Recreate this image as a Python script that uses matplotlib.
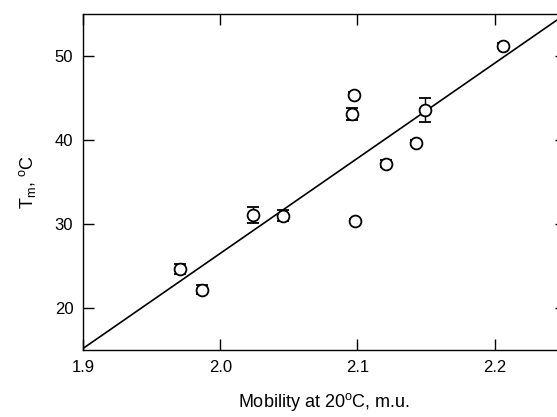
import numpy as np
import matplotlib
matplotlib.use("Agg")
import matplotlib.pyplot as plt

plt.rcParams["font.family"] = ["Liberation Sans", "DejaVu Sans"]
plt.rcParams["mathtext.fontset"] = "custom"
plt.rcParams["mathtext.rm"] = "Liberation Sans"
plt.rcParams["mathtext.it"] = "Liberation Sans"

# mobility (m.u.) vs melting temperature
mobility = [1.971, 1.9865, 2.024, 2.046, 2.0974, 2.0957, 2.1205, 2.098, 2.1496, 2.1425, 2.2061]
tm = [24.6, 22.2, 31.1, 31.0, 45.4, 43.1, 37.2, 30.4, 43.6, 39.7, 51.2]
tm_err = [0.6, 0.5, 0.95, 0.7, 0.3, 0.7, 0.4, 0.2, 1.4, 0.3, 0.3]

# linear fit
slope = 113.2
intercept = -199.9

xlim = (1.9, 2.252)
ylim = (15, 55)

fig = plt.figure(figsize=(5.57, 4.17), dpi=100)
ax = fig.add_axes([83 / 557, 67 / 417, (566 - 83) / 557, 336 / 417])

xfit = np.array(xlim)
ax.plot(xfit, slope * xfit + intercept, color="black", lw=1.2, zorder=2)
ax.errorbar(mobility, tm, yerr=tm_err, fmt="o", ms=8.5, mfc="white", mec="black",
            mew=1.3, ecolor="black", elinewidth=1.0, capsize=4, capthick=1.0, zorder=3)

ax.set_xlim(*xlim)
ax.set_ylim(*ylim)
ax.set_xticks([1.9, 2.0, 2.1, 2.2])
ax.set_xticklabels(["1.9", "2.0", "2.1", "2.2"])
ax.set_yticks([20, 30, 40, 50])
ax.tick_params(direction="in", length=8, width=1.0, top=True, right=True,
               labelsize=12, pad=7, colors="black")
for s in ax.spines.values():
    s.set_linewidth(1.0)

ax.set_xlabel("Mobility at 20$^{\\rm o}$C, m.u.", fontsize=13, labelpad=12)
ax.set_ylabel("T$_{\\rm m}$, $^{\\rm o}$C", fontsize=13, labelpad=12)

fig.savefig("out.png", dpi=100)
